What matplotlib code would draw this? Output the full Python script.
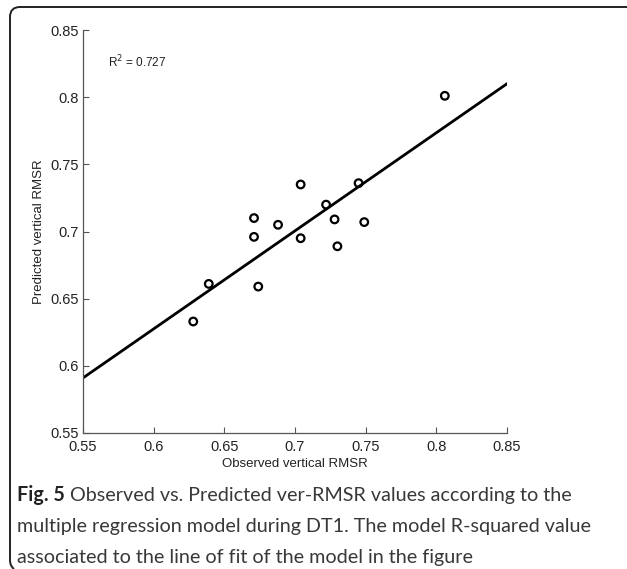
import matplotlib.pyplot as plt
from matplotlib.path import Path
from matplotlib.patches import PathPatch

# observed vs predicted vertical RMSR
observed = [0.628, 0.639, 0.671, 0.671, 0.674, 0.688, 0.704, 0.704,
            0.722, 0.728, 0.730, 0.745, 0.749, 0.806]
predicted = [0.633, 0.661, 0.710, 0.696, 0.659, 0.705, 0.735, 0.695,
             0.720, 0.709, 0.689, 0.736, 0.707, 0.801]

# line of fit end points
fit_x = [0.55, 0.85]
fit_y = [0.591, 0.810]

r2_text = 'R$^2$ = 0.727'
ticks = [0.55, 0.6, 0.65, 0.7, 0.75, 0.8, 0.85]
tick_labels = ['0.55', '0.6', '0.65', '0.7', '0.75', '0.8', '0.85']

W, H = 627, 569
fig = plt.figure(figsize=(W / 100, H / 100), dpi=100)
ax = fig.add_axes([83 / W, 1 - 433 / H, (507 - 83) / W, (433 - 30) / H])

ax.plot(fit_x, fit_y, color='black', linewidth=2, zorder=2)
ax.scatter(observed, predicted, s=30, facecolors='none', edgecolors='black',
           linewidths=1.6, zorder=3)

ax.set_xlim(0.55, 0.85)
ax.set_ylim(0.55, 0.85)
ax.set_xticks(ticks)
ax.set_xticklabels(tick_labels)
ax.set_yticks(ticks)
ax.set_yticklabels(tick_labels)
ax.tick_params(direction='in', length=4, width=0.8, colors='#555555',
               labelcolor='#222222', labelsize=10.5, pad=3)
ax.tick_params(axis='x', pad=5)
for sp in ['top', 'right']:
    ax.spines[sp].set_visible(False)
for sp in ['left', 'bottom']:
    ax.spines[sp].set_color('#555555')
    ax.spines[sp].set_linewidth(0.9)

font = 'Liberation Sans'
for lab in ax.get_xticklabels() + ax.get_yticklabels():
    lab.set_fontfamily(font)
ax.set_xlabel('Observed vertical RMSR', fontsize=9.5, family=font,
              color='#222222', labelpad=3)
ax.set_ylabel('Predicted vertical RMSR', fontsize=9.5, family=font,
              color='#222222', labelpad=4)
ax.text(0.059, 0.92, r2_text, transform=ax.transAxes, fontsize=8.5,
        family=font, color='#222222', va='center')

# caption
cap_font = 'Lato'
cap_size = 14.2
cap_color = '#383838'
lines = ['Observed vs. Predicted ver-RMSR values according to the',
         'multiple regression model during DT1. The model R-squared value',
         'associated to the line of fit of the model in the figure']
baselines = [501, 532, 563]
bold = fig.text(17 / W, 1 - baselines[0] / H, 'Fig. 5', fontsize=cap_size,
                family=cap_font, weight='bold', color='#222222', va='baseline')
fig.canvas.draw()
bb = bold.get_window_extent()
fig.text((bb.x1 + 5) / W, 1 - baselines[0] / H, lines[0], fontsize=cap_size,
         family=cap_font, color=cap_color, va='baseline')
for line, y in zip(lines[1:], baselines[1:]):
    fig.text(17 / W, 1 - y / H, line, fontsize=cap_size, family=cap_font,
             color=cap_color, va='baseline')

# rounded frame (open on the right)
verts = [(W + 5, 7), (20, 7), (10, 7), (10, 17), (10, 560), (10, 566), (14, 569)]
codes = [Path.MOVETO, Path.LINETO, Path.CURVE3, Path.CURVE3, Path.LINETO,
         Path.CURVE3, Path.CURVE3]
verts = [(x / W, 1 - y / H) for x, y in verts]
frame = PathPatch(Path(verts, codes), transform=fig.transFigure,
                  facecolor='none', edgecolor='#222222', linewidth=1.4)
fig.patches.append(frame)

fig.savefig('out.png', dpi=100)
